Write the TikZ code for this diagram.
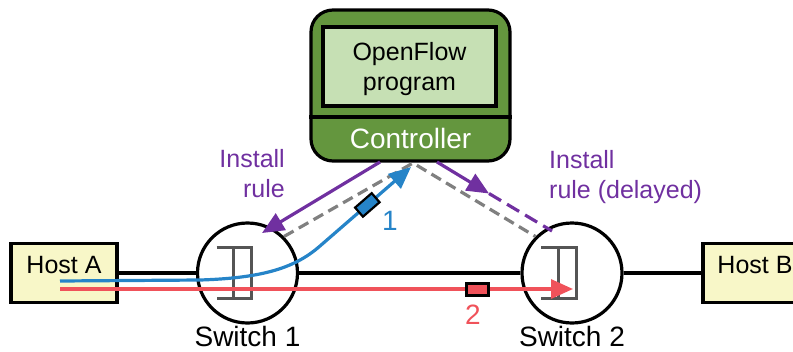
\documentclass[tikz,border=0pt]{standalone}
\usepackage{fontspec}
\setmainfont{Liberation Sans}
\usetikzlibrary{arrows.meta,calc}

\definecolor{ctrlgreen}{RGB}{100,150,62}
\definecolor{proggreen}{RGB}{198,224,180}
\definecolor{hostfill}{RGB}{248,247,200}
\definecolor{flowblue}{RGB}{38,132,200}
\definecolor{flowred}{RGB}{240,82,90}
\definecolor{rulepurple}{RGB}{112,48,160}
\definecolor{icongray}{RGB}{85,85,85}
\definecolor{dashgray}{RGB}{128,128,128}

\begin{document}
\begin{tikzpicture}[x=1pt,y=-1pt,
  txt/.style={font=\fontsize{25}{30}\selectfont, inner sep=0pt},
  bigtxt/.style={font=\fontsize{28}{32}\selectfont, inner sep=0pt},
  ctrlbox/.style={draw=black, line width=3.2pt, fill=ctrlgreen, rounded corners=22pt,
    minimum width=199pt, minimum height=151pt, inner sep=0pt},
  progbox/.style={draw=black, line width=3.2pt, fill=proggreen,
    minimum width=173pt, minimum height=79pt, inner sep=0pt},
  hostbox/.style={draw=black, line width=3.2pt, fill=hostfill,
    minimum width=106pt, minimum height=59pt, inner sep=0pt},
  switchnode/.style={draw=black, line width=3.2pt, circle, minimum size=100pt, inner sep=0pt},
  link/.style={draw=black, line width=3.2pt},
  icon/.style={draw=icongray, line width=3pt},
  tip/.style={-{Triangle[length=22pt,width=19pt]}},
  flow/.style={line width=3.2pt, tip},
  packet/.style={draw=black, line width=2.2pt, minimum width=22pt, minimum height=12pt, inner sep=0pt},
  rule/.style={draw=rulepurple, line width=3.2pt},
  ctlpath/.style={draw=dashgray, line width=3.2pt, dash pattern=on 11pt off 6pt},
]
\useasboundingbox (0,0) rectangle (793,351);
\clip (0,0) rectangle (793,351);

% controller with the program box inside
\node[ctrlbox] (ctrl) at (410.5,85.5) {};
\coordinate (divider) at (0,117);
\draw[line width=3.2pt] (ctrl.west |- divider) -- (ctrl.east |- divider);
\node[progbox] (prog) at (409.5,66.5) {};
\node[txt, anchor=base, align=center] (progtxt) at (409.5,90) {OpenFlow\\program};
\node[bigtxt, anchor=base, text=white] (ctrltxt) at (410.5,148) {Controller};

% hosts
\node[hostbox] (hostA) at (64,273) {};
\node[txt, anchor=base] (hostAtxt) at (64,273) {Host A};
\node[hostbox] (hostB) at (756,273) {};
\node[txt, anchor=base] (hostBtxt) at (755,273) {Host B};

% switches
\node[switchnode] (sw1) at (247.5,273) {};
\node[switchnode] (sw2) at (572,273) {};
\foreach \s in {sw1,sw2}{
  \draw[icon] ($(\s)+(-31,-26)$) -- ++(35,0) -- ++(0,51) -- ++(-35,0);
  \draw[icon] ($(\s)+(-14,-26)$) -- ++(0,51);
}
\node[bigtxt, anchor=base] (sw1txt) at (247.5,346) {Switch 1};
\node[bigtxt, anchor=base] (sw2txt) at (572,346) {Switch 2};

% data links
\draw[link] (hostA.east) -- (sw1.west);
\draw[link] (sw1.east) -- (sw2.west);
\draw[link] (sw2.east) -- (hostB.west);

% control channel
\coordinate (apex) at (413,163);
\draw[ctlpath] (sw1.45) -- (apex) -- (sw2.135);

% rule installation
\coordinate (ruleAstart) at (380,162);
\coordinate (ruleAend) at (262,233);
\draw[rule, tip] (ruleAstart) -- (ruleAend);
\coordinate (ruleBstart) at (437,162);
\coordinate (ruleBmid) at (489,193.5);
\coordinate (ruleBend) at (552,231);
\draw[rule, tip] (ruleBstart) -- (ruleBmid);
\draw[rule, dash pattern=on 14pt off 7pt] (ruleBmid) -- (ruleBend);
\node[txt, anchor=base east, align=right, text=rulepurple] (ruleAtxt) at (285,197) {Install\\rule};
\node[txt, anchor=base west, align=left, text=rulepurple] (ruleBtxt) at (549,198) {Install\\rule (delayed)};

% first packet: sent to the controller
\coordinate (blueStart) at (60,281);
\coordinate (blueEnd) at (411,167);
\draw[flow, flowblue] (blueStart) -- (200,280) .. controls (265,278) and (296,267) .. (320,246)
  -- (blueEnd) node[pos=0.52, sloped, packet, fill=flowblue] (pkt1) {};
\node[bigtxt, text=flowblue, anchor=base] (pkt1txt) at (390,230) {1};

% second packet: forwarded to switch 2
\coordinate (redStart) at (60,289);
\coordinate (redEnd) at (573,289);
\draw[flow, flowred] (redStart) -- (redEnd);
\node[packet, fill=flowred] (pkt2) at (477.5,289.5) {};
\node[bigtxt, text=flowred, anchor=base] (pkt2txt) at (473,324) {2};
\end{tikzpicture}
\end{document}
